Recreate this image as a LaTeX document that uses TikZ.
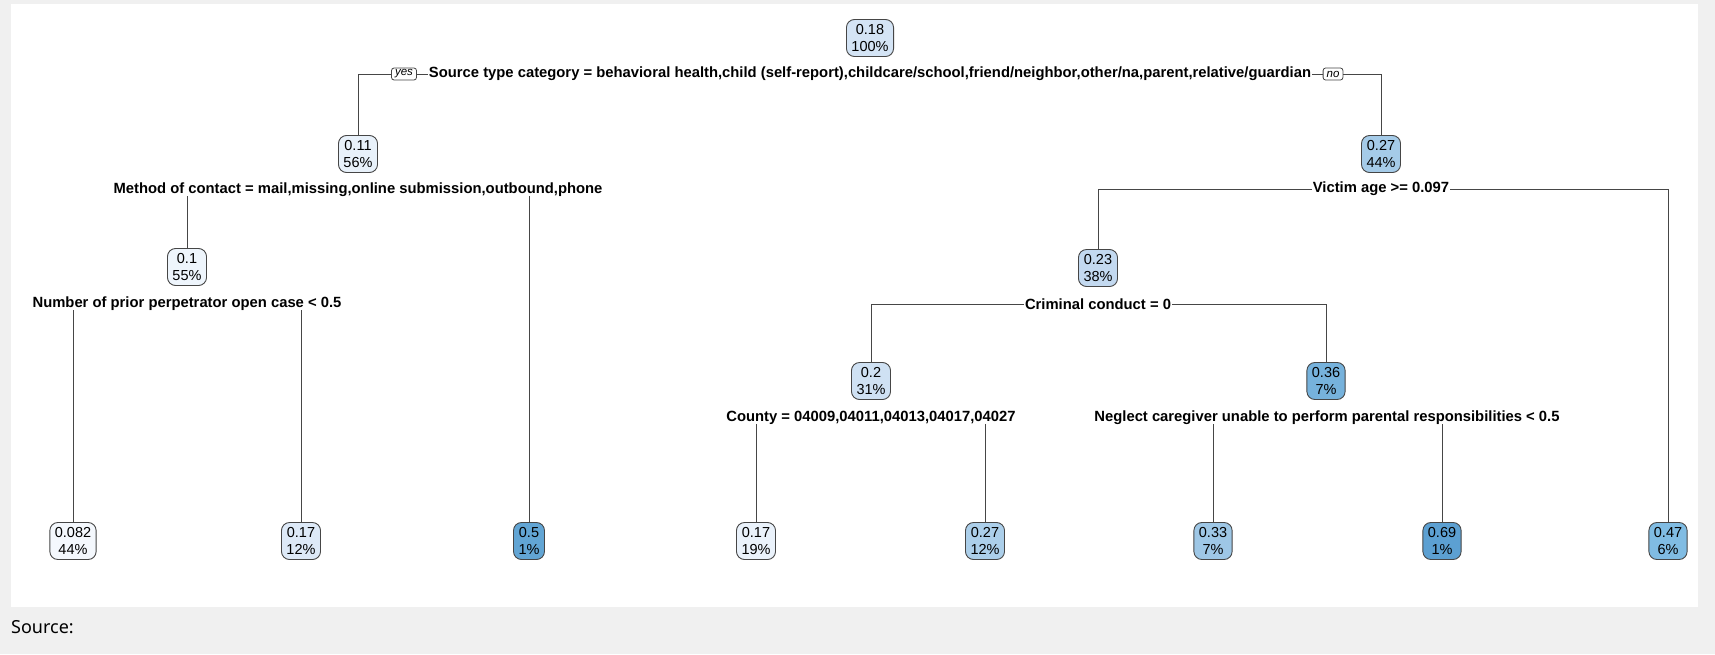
\documentclass[tikz,border=0pt]{standalone}
\usepackage{fontspec}
\setmainfont{Liberation Sans}
\newfontfamily\captionfam{Noto Sans}
\usetikzlibrary{positioning}

\definecolor{pagegray}{RGB}{240,240,240}
\definecolor{linegray}{RGB}{70,70,70}
\definecolor{b082}{RGB}{244,248,253}
\definecolor{b10}{RGB}{238,245,252}
\definecolor{b11}{RGB}{232,241,250}
\definecolor{b17a}{RGB}{221,233,247}
\definecolor{b17b}{RGB}{234,242,251}
\definecolor{b18}{RGB}{212,228,245}
\definecolor{b20}{RGB}{207,225,243}
\definecolor{b23}{RGB}{195,217,240}
\definecolor{b27}{RGB}{165,203,232}
\definecolor{b27l}{RGB}{172,207,234}
\definecolor{b33}{RGB}{158,199,230}
\definecolor{b36}{RGB}{118,178,220}
\definecolor{b47}{RGB}{128,188,227}
\definecolor{b50}{RGB}{98,165,212}
\definecolor{b69}{RGB}{92,160,210}

\newcommand{\treefont}{\fontsize{14.5}{17}\selectfont}
\newcommand{\splitlabelfont}{\fontsize{14.8}{17}\selectfont\bfseries}
\newcommand{\yesnofont}{\fontsize{11.5}{12}\selectfont\itshape}

\tikzset{
    tbox/.style={draw=linegray, rounded corners=8pt, align=center, font=\treefont, inner xsep=5pt, inner ysep=1pt, minimum height=37pt, line width=0.9pt},
    splitlabel/.style={font=\splitlabelfont, inner sep=1pt},
    answer/.style={draw=linegray, rounded corners=2.5pt, font=\yesnofont, inner xsep=3.5pt, inner ysep=0pt, minimum height=12pt, line width=0.8pt},
    link/.style={draw=linegray, line width=0.9pt}
}

\begin{document}
\begin{tikzpicture}[x=1pt, y=-1pt]
    \fill[pagegray] (0,0) rectangle (1715,654);
    \fill[white] (11,4) rectangle (1698,607);
    \useasboundingbox (0,0) rectangle (1715,654);

    % inner nodes
    \node[tbox, fill=b18] (n1) at (870,38) {0.18\\100\%};
    \node[tbox, fill=b11] (n2) at (358,154) {0.11\\56\%};
    \node[tbox, fill=b27] (n3) at (1381,154) {0.27\\44\%};
    \node[tbox, fill=b10] (n4) at (187,267) {0.1\\55\%};
    \node[tbox, fill=b23] (n5) at (1098,268) {0.23\\38\%};
    \node[tbox, fill=b20] (n6) at (871,381) {0.2\\31\%};
    \node[tbox, fill=b36] (n7) at (1326,381) {0.36\\7\%};

    % leaves
    \node[tbox, fill=b082] (l1) at (73,541) {0.082\\44\%};
    \node[tbox, fill=b17a] (l2) at (301,541) {0.17\\12\%};
    \node[tbox, fill=b50] (l3) at (529,541) {0.5\\1\%};
    \node[tbox, fill=b17b] (l4) at (756,541) {0.17\\19\%};
    \node[tbox, fill=b27l] (l5) at (985,541) {0.27\\12\%};
    \node[tbox, fill=b33] (l6) at (1213,541) {0.33\\7\%};
    \node[tbox, fill=b69] (l7) at (1442,541) {0.69\\1\%};
    \node[tbox, fill=b47] (l8) at (1668,541) {0.47\\6\%};

    % split labels
    \node[splitlabel] (s1) at (870,74) {Source type category = behavioral health,child (self-report),childcare/school,friend/neighbor,other/na,parent,relative/guardian};
    \node[splitlabel] (s2) at (358,190) {Method of contact = mail,missing,online submission,outbound,phone};
    \node[splitlabel] (s3) at (1381,189) {Victim age >= 0.097};
    \node[splitlabel] (s4) at (187,304) {Number of prior perpetrator open case < 0.5};
    \node[splitlabel] (s5) at (1098,304) {Criminal conduct = 0};
    \node[splitlabel] (s6) at (871,418) {County = 04009,04011,04013,04017,04027};
    \node[splitlabel] (s7) at (1327,418) {Neglect caregiver unable to perform parental responsibilities < 0.5};

    \node[answer] (yes) at (404,74) {yes};
    \node[answer] (no) at (1333,74) {no};

    % connectors
    \draw[link] (s1.west) -- (yes.east);
    \draw[link] (yes.west) -| (n2.north);
    \draw[link] (s1.east) -- (no.west);
    \draw[link] (no.east) -| (n3.north);

    \draw[link] ([yshift=2pt]s2.south -| n4) -- (n4.north);
    \draw[link] ([yshift=2pt]s2.south -| l3) -- (l3.north);
    \draw[link] (s3.west) -| (n5.north);
    \draw[link] (s3.east) -| (l8.north);

    \draw[link] ([yshift=2pt]s4.south -| l1) -- (l1.north);
    \draw[link] ([yshift=2pt]s4.south -| l2) -- (l2.north);
    \draw[link] (s5.west) -| (n6.north);
    \draw[link] (s5.east) -| (n7.north);

    \draw[link] ([yshift=2pt]s6.south -| l4) -- (l4.north);
    \draw[link] ([yshift=2pt]s6.south -| l5) -- (l5.north);
    \draw[link] ([yshift=2pt]s7.south -| l6) -- (l6.north);
    \draw[link] ([yshift=2pt]s7.south -| l7) -- (l7.north);

    \node[anchor=west, font=\captionfam\fontsize{18}{20}\selectfont, inner sep=0pt] (src) at (11,627) {Source:};
\end{tikzpicture}
\end{document}
